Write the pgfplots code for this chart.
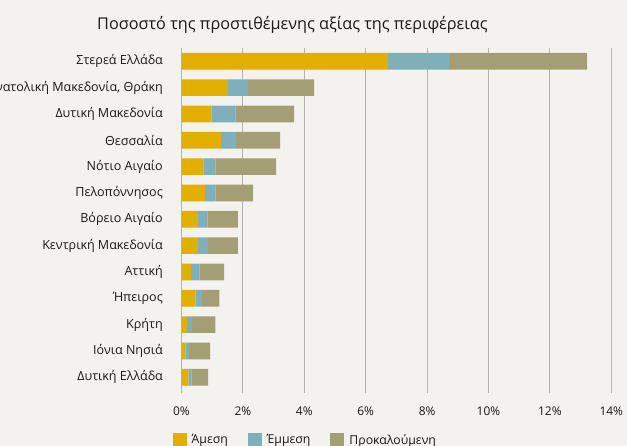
\documentclass[border=0pt]{standalone}
\usepackage{pgfplots}
\pgfplotsset{compat=1.18}
\usepackage{pgfplotstable}
\usepackage{fontspec}
\setmainfont{Open Sans}
\definecolor{bg}{RGB}{244,242,238}
\definecolor{amesi}{RGB}{226,175,0}
\definecolor{emmesi}{RGB}{127,175,186}
\definecolor{prok}{RGB}{164,158,116}
\definecolor{gridc}{RGB}{180,180,180}
\definecolor{txt}{RGB}{25,25,25}
\pgfplotstableread{
y direct indirect induced
0 6.73 1.98 4.50
1 1.51 0.66 2.15
2 0.97 0.79 1.91
3 1.29 0.49 1.43
4 0.71 0.39 1.98
5 0.77 0.33 1.23
6 0.53 0.31 1.00
7 0.53 0.34 0.97
8 0.31 0.27 0.81
9 0.46 0.21 0.56
10 0.18 0.17 0.75
11 0.13 0.12 0.68
12 0.22 0.11 0.54
}\datatable
\begin{document}
\begin{tikzpicture}
\fill[bg] (0,0) rectangle (627bp,446bp);
\node[anchor=base west, inner sep=0pt, text=txt] at (97bp,416.7bp) {\fontsize{16.3}{20}\selectfont Ποσοστό της προστιθέμενης αξίας της περιφέρειας};
\begin{axis}[
  at={(181.5bp,53bp)}, anchor=south west,
  scale only axis, width=429.8bp, height=345bp,
  xbar stacked, bar width=16.7bp,
  y dir=reverse,
  xmin=0, xmax=14, ymin=-0.505, ymax=12.596,
  xtick={0,2,...,14},
  xticklabels={0\%,2\%,4\%,6\%,8\%,10\%,12\%,14\%},
  ytick={0,...,12},
  yticklabels={Στερεά Ελλάδα,{Ανατολική Μακεδονία, Θράκη},Δυτική Μακεδονία,Θεσσαλία,Νότιο Αιγαίο,Πελοπόννησος,Βόρειο Αιγαίο,Κεντρική Μακεδονία,Αττική,Ήπειρος,Κρήτη,Ιόνια Νησιά,Δυτική Ελλάδα},
  /pgf/number format/assume math mode=true,
  tick style={draw=none},
  axis line style={draw=none},
  xmajorgrids, ymajorgrids=false,
  major grid style={color=gridc, line width=1bp},
  ticklabel style={font=\fontsize{12}{14}\selectfont, text=txt},
  yticklabel style={inner sep=0pt, xshift=-18.5bp, font=\fontsize{12.6}{14}\selectfont},
  xticklabel style={inner sep=0pt, yshift=-14bp},
  legend columns=3,
  legend style={at={(rel axis cs:0,0)}, anchor=west, xshift=-8.8bp, yshift=-47bp,
    draw=none, fill=none, inner sep=0pt, outer sep=0pt,
    nodes={inner sep=0pt, font=\fontsize{12.3}{14}\selectfont, text=txt},
    /tikz/every odd column/.append style={column sep=5bp},
    /tikz/every even column/.append style={column sep=20bp}},
  legend image code/.code={\fill[#1] (0bp,-7bp) rectangle (14bp,7bp);},
]
\addplot[fill=amesi, draw=none] table[x=direct, y=y] {\datatable};
\addplot[fill=emmesi, draw=none] table[x=indirect, y=y] {\datatable};
\addplot[fill=prok, draw=none] table[x=induced, y=y] {\datatable};
\legend{Άμεση,Έμμεση,Προκαλούμενη}
\end{axis}
\pgfresetboundingbox
\path[use as bounding box] (0,0) rectangle (627bp,446bp);
\end{tikzpicture}
\end{document}
